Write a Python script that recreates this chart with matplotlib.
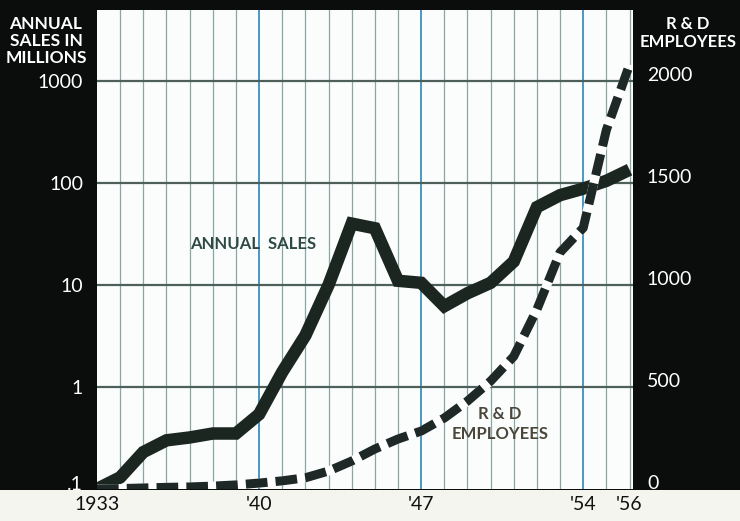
import numpy as np
import matplotlib
matplotlib.use("Agg")
import matplotlib.pyplot as plt
import matplotlib.transforms as mtransforms
from matplotlib.patches import Rectangle

plt.rcParams['font.family'] = ['Lato', 'DejaVu Sans']

years = list(range(1933, 1957))
sales = [0.1, 0.13, 0.23, 0.30, 0.32, 0.35, 0.35, 0.54, 1.4, 3.2, 10, 40,
         36, 11, 10.5, 6.2, 8.3, 10.5, 17, 58, 76, 88, 105, 135]
rd_employees = [0, 2, 5, 8, 10, 14, 20, 29, 40, 55, 88, 137,
                196, 245, 284, 348, 431, 529, 650, 880, 1160, 1280, 1760, 2080]

left_ticks = [0.1, 1, 10, 100, 1000]
left_labels = ['.1', '1', '10', '100', '1000']
right_ticks = [0, 500, 1000, 1500, 2000]
x_ticks = [1933, 1940, 1947, 1954, 1956]
x_labels = ['1933', "'40", "'47", "'54", "'56"]
blue_years = [1940, 1947, 1954]


def main():
    W, H = 740, 521
    fig = plt.figure(figsize=(W / 100, H / 100), dpi=100, facecolor='#0b0d0c')
    # white strip under the plot for the year labels
    fig.patches.append(Rectangle((0, 0), 1, 31 / H, transform=fig.transFigure,
                                 facecolor='#f5f5f0', edgecolor='none', zorder=-10))

    ax = fig.add_axes([97 / W, 32 / H, 536 / W, 479 / H])
    ax.set_facecolor('#fbfdfd')
    ax.set_yscale('log')
    ax.set_xlim(1933, 1956.15)
    ax.set_ylim(0.1, 10 ** (-1 + 479 / 102))

    # yearly vertical grid, decade horizontal grid
    for y in range(1934, 1957):
        if y in blue_years:
            ax.axvline(y, color='#3f8fc0', lw=1.3, zorder=1)
        else:
            ax.axvline(y, color='#8aa5a2', lw=0.9, zorder=1)
    for v in left_ticks[1:]:
        ax.axhline(v, color='#4d615a', lw=1.6, zorder=1)

    ax.plot(years, sales, color='#1b2621', lw=9, solid_joinstyle='miter',
            solid_capstyle='butt', zorder=3)

    ax.set_yticks(left_ticks)
    ax.set_yticklabels(left_labels)
    ax.yaxis.set_minor_locator(matplotlib.ticker.NullLocator())
    ax.set_xticks(x_ticks)
    ax.set_xticklabels(x_labels)
    ax.tick_params(axis='y', length=0, pad=10, labelsize=14, labelcolor='white')
    ax.tick_params(axis='x', length=0, pad=5, labelsize=14, labelcolor='#111111')
    for s in ax.spines.values():
        s.set_visible(False)
    # ".1" sits just above the white strip
    up = mtransforms.ScaledTranslation(0, 4 / 72, fig.dpi_scale_trans)
    lab0 = ax.get_yticklabels()[0]
    lab0.set_transform(lab0.get_transform() + up)

    ax2 = ax.twinx()
    ax2.set_ylim(0, 479 / 102 * 500)
    ax2.plot(years, rd_employees, color='white', lw=6.5, solid_capstyle='butt', zorder=4)
    ax2.plot(years, rd_employees, color='#1e2826', lw=6.5, dashes=(2.4, 0.9),
             dash_capstyle='butt', zorder=5)
    ax2.set_yticks(right_ticks)
    ax2.set_yticklabels([str(t) for t in right_ticks])
    ax2.tick_params(axis='y', length=0, pad=10, labelsize=14, labelcolor='white')
    for s in ax2.spines.values():
        s.set_visible(False)
    up2 = mtransforms.ScaledTranslation(0, 5 / 72, fig.dpi_scale_trans)
    for lab in ax2.get_yticklabels():
        lab.set_transform(lab.get_transform() + up2)

    # axis headers
    fig.text(46 / W, 1 - 41 / H, 'ANNUAL\nSALES IN\nMILLIONS', color='white',
             fontsize=12.5, fontweight='bold', ha='center', va='center', linespacing=1.05)
    fig.text(688 / W, 1 - 33 / H, 'R & D\nEMPLOYEES', color='white',
             fontsize=12, fontweight='bold', ha='center', va='center', linespacing=1.2)

    # labels inside the plot
    fig.text(253 / W, 1 - 244 / H, 'ANNUAL  SALES', color='#2f4a44',
             fontsize=12, fontweight='bold', ha='center', va='center')
    fig.text(500 / W, 1 - 424 / H, 'R & D\nEMPLOYEES', color='#4a463a',
             fontsize=12, fontweight='bold', ha='center', va='center', linespacing=1.25)

    fig.savefig('out.png', dpi=100, facecolor=fig.get_facecolor())


if __name__ == '__main__':
    main()
